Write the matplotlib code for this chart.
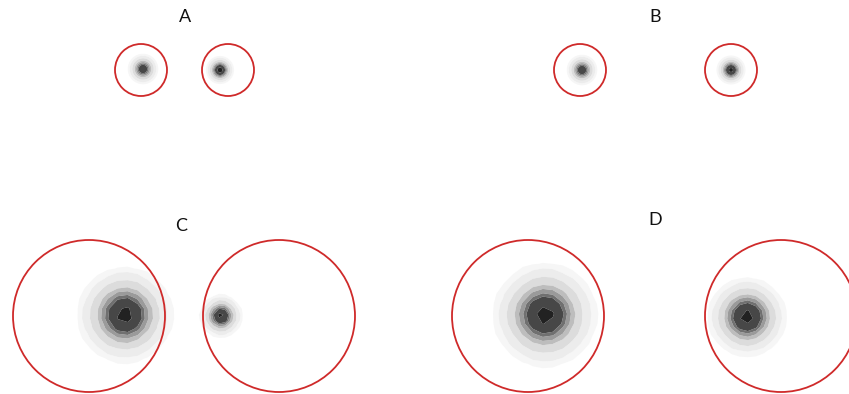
import numpy as np
import matplotlib
matplotlib.use("Agg")
import matplotlib.pyplot as plt
from matplotlib.patches import Ellipse

# panel letters and where they sit (pixel coords, y down)
panel_labels = ["A", "B", "C", "D"]
label_x = [185, 655, 181, 655]
label_y = [17, 17, 226, 220]

# stimulus outlines: centre and radius
ring_x = [141, 228, 580, 731, 89, 279, 528, 781]
ring_y = [70, 70, 70, 70, 316, 316, 316, 316]
ring_r = [26, 26, 26, 26, 76, 76, 76, 76]

# fixation density blobs: centre, spread, peak density, grid step of the estimate
blob_x = [143, 220, 582, 731, 125, 221, 545, 747]
blob_y = [69, 70, 70, 70, 315, 316, 315, 317]
blob_sigma = [5.6, 5.0, 5.6, 5.2, 17.0, 7.5, 18.5, 14.0]
blob_peak = [0.80, 1.00, 0.80, 0.95, 1.00, 1.00, 1.00, 1.00]
blob_step = [1.0, 1.0, 1.0, 1.0, 10.0, 6.0, 10.0, 8.0]

levels = [0.02, 0.05, 0.13, 0.27, 0.38, 0.50, 0.60, 0.88, 1.01]
band_colors = ["#f6f6f6", "#ececec", "#dcdcdc", "#bdbdbd", "#9a9a9a",
               "#707070", "#474747", "#222222"]

fig = plt.figure(figsize=(8.49, 3.94), dpi=100)
ax = fig.add_axes([0, 0, 1, 1])
ax.set_xlim(0, 849)
ax.set_ylim(394, 0)
ax.axis("off")

for bx, by, s, pk, st in zip(blob_x, blob_y, blob_sigma, blob_peak, blob_step):
    half = 3.2 * s
    # slightly off-centre grid so the coarse contours come out uneven
    gx = np.arange(bx - half - 0.3 * st, bx + half + st, st)
    gy = np.arange(by - half - 0.2 * st, by + half + st, st)
    X, Y = np.meshgrid(gx, gy)
    Z = pk * np.exp(-((X - bx) ** 2 + (Y - by) ** 2) / (2 * s ** 2))
    ax.contourf(X, Y, Z, levels=levels, colors=band_colors, antialiased=True)

for cx, cy, r in zip(ring_x, ring_y, ring_r):
    ax.add_patch(Ellipse((cx, cy), 2 * r, 2 * r, fill=False,
                         edgecolor="#cf2a2a", linewidth=1.3))

for lab, lx, ly in zip(panel_labels, label_x, label_y):
    ax.text(lx, ly, lab, fontsize=13, family="Lato", ha="center", va="center",
            color="#111111")

fig.savefig("out.png", dpi=100)
